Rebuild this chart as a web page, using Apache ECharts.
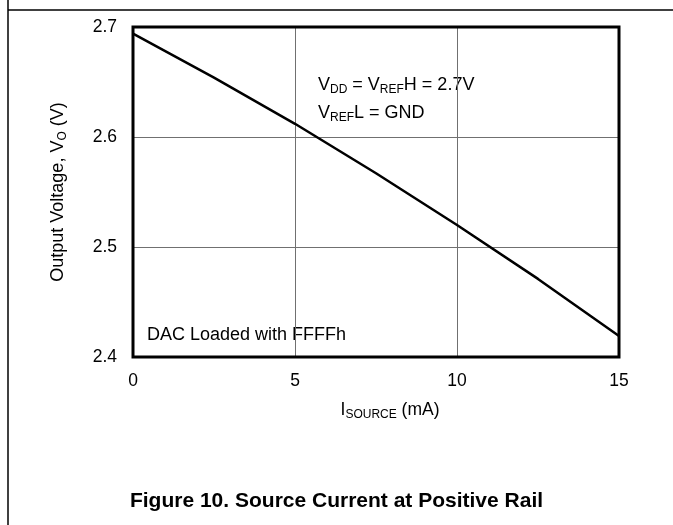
<!DOCTYPE html>
<html>
<head>
<meta charset="utf-8">
<script src="https://cdn.jsdelivr.net/npm/echarts@6/dist/echarts.min.js"></script>
<style>html,body{margin:0;padding:0;background:#fff;}#c{width:673px;height:525px;}</style>
</head>
<body>
<div id="c"></div>
<script>
var currentMA = [0, 2.5, 5, 7.5, 10, 12.5, 15];
var outputV = [2.694, 2.654, 2.612, 2.567, 2.520, 2.471, 2.419];
var xTicks = [0, 5, 10, 15];
var yTicks = [2.4, 2.5, 2.6, 2.7];

var chart = echarts.init(document.getElementById('c'));
var FONT = 'Liberation Sans, Arial, sans-serif';
var sub = function (sz, pad) {
  return { fontSize: sz, fontFamily: FONT, color: '#000', padding: [pad, 0, 0, 0] };
};
var G = { left: 133, top: 27, width: 486, height: 330 };
chart.setOption({
  animation: false,
  grid: { left: G.left, top: G.top, width: G.width, height: G.height, show: false },
  xAxis: {
    type: 'value', min: 0, max: 15, interval: 5,
    axisLine: { show: false }, axisTick: { show: false },
    splitLine: { show: true, lineStyle: { color: '#707070', width: 1 } },
    axisLabel: { margin: 15, fontSize: 17.5, fontFamily: FONT, color: '#000',
      formatter: function (v) { return xTicks.indexOf(v) >= 0 ? String(v) : ''; } },
    name: '{b|I}{s|SOURCE}{b| (mA)}', nameLocation: 'middle', nameGap: 43,
    nameTextStyle: { padding: [0, 0, 0, 28], rich: { b: { fontSize: 17.5, fontFamily: FONT, color: '#000' }, s: sub(12, 9) } }
  },
  yAxis: {
    type: 'value', min: 2.4, max: 2.7, interval: 0.1,
    axisLine: { show: false }, axisTick: { show: false },
    splitLine: { show: true, lineStyle: { color: '#707070', width: 1 } },
    axisLabel: { margin: 16, fontSize: 17.5, fontFamily: FONT, color: '#000',
      formatter: function (v) {
        for (var i = 0; i < yTicks.length; i++) if (Math.abs(yTicks[i] - v) < 1e-6) return yTicks[i].toFixed(1);
        return '';
      } },
    name: '{b|Output Voltage, V}{s|O}{b| (V)}', nameLocation: 'middle', nameGap: 64, nameRotate: 90,
    nameTextStyle: { rich: { b: { fontSize: 18, fontFamily: FONT, color: '#000' }, s: sub(12, 9) } }
  },
  series: [{
    type: 'line', data: currentMA.map(function (x, i) { return [x, outputV[i]]; }),
    showSymbol: false, lineStyle: { color: '#000', width: 2.5 }, z: 5
  }],
  graphic: [
    { type: 'rect', z: 100, shape: { x: G.left, y: G.top, width: G.width, height: G.height },
      style: { fill: 'none', stroke: '#000', lineWidth: 3 } },
    { type: 'line', shape: { x1: 8, y1: 0, x2: 8, y2: 525 }, style: { stroke: '#000', lineWidth: 1.5 } },
    { type: 'line', shape: { x1: 8, y1: 10, x2: 673, y2: 10 }, style: { stroke: '#000', lineWidth: 1.5 } },
    { type: 'text', left: 318, top: 76, style: {
        text: '{b|V}{s|DD}{b| = V}{s|REF}{b|H = 2.7V}',
        rich: { b: { fontSize: 18, fontFamily: FONT, color: '#000' }, s: sub(12, 9) } } },
    { type: 'text', left: 318, top: 104, style: {
        text: '{b|V}{s|REF}{b|L = GND}',
        rich: { b: { fontSize: 18, fontFamily: FONT, color: '#000' }, s: sub(12, 9) } } },
    { type: 'text', left: 147, top: 326, style: {
        text: 'DAC Loaded with FFFFh', fontSize: 18, fontFamily: FONT, fill: '#000' } },
    { type: 'text', left: 'center', top: 491, style: {
        text: 'Figure 10. Source Current at Positive Rail', fontSize: 21, fontWeight: 'bold', fontFamily: FONT, fill: '#000' } }
  ]
});
</script>
</body>
</html>
